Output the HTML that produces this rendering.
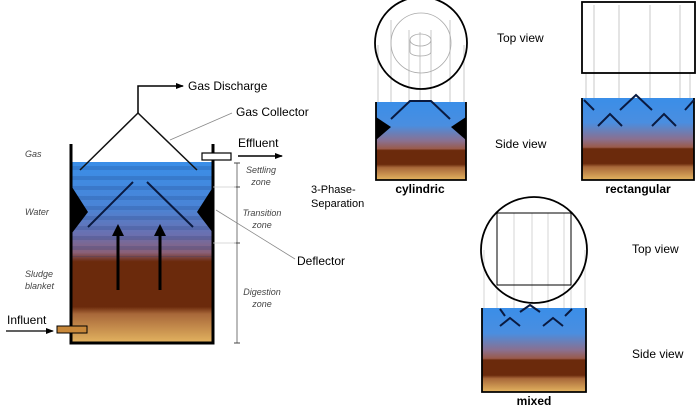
<!DOCTYPE html>
<html><head><meta charset="utf-8"><style>
html,body{margin:0;padding:0;background:#fff;}
svg{display:block;font-family:"Liberation Sans",Arial,sans-serif;}
</style></head><body>
<svg width="700" height="411" viewBox="0 0 700 411" xmlns="http://www.w3.org/2000/svg">
<defs>
<linearGradient id="g1" x1="0" y1="0" x2="0" y2="1">
<stop offset="0" stop-color="#3a8ee8"/>
<stop offset="0.25" stop-color="#4a84d6"/>
<stop offset="0.4" stop-color="#6a70b0"/>
<stop offset="0.5" stop-color="#8a6078"/>
<stop offset="0.55" stop-color="#6b2a0c"/>
<stop offset="0.8" stop-color="#6b2a0c"/>
<stop offset="0.84" stop-color="#a8683a"/>
<stop offset="1" stop-color="#e4b460"/>
</linearGradient>
<linearGradient id="g2" x1="0" y1="0" x2="0" y2="1">
<stop offset="0" stop-color="#3a8ee8"/>
<stop offset="0.3" stop-color="#4a8ee0"/>
<stop offset="0.5" stop-color="#8a7090"/>
<stop offset="0.6" stop-color="#9a5a4a"/>
<stop offset="0.62" stop-color="#6b2a0c"/>
<stop offset="0.8" stop-color="#6b2a0c"/>
<stop offset="0.84" stop-color="#a8683a"/>
<stop offset="1" stop-color="#e4b460"/>
</linearGradient>
<pattern id="stripes" width="10" height="10" patternUnits="userSpaceOnUse">
<rect width="10" height="4" y="6" fill="#103070" opacity="0.18"/>
</pattern>
<marker id="ar" markerWidth="8" markerHeight="8" refX="7" refY="4" orient="auto" markerUnits="userSpaceOnUse"><path d="M0,1 L8,4 L0,7z" fill="#000"/></marker>
</defs>

<rect x="71" y="162" width="142" height="181" fill="url(#g1)"/>
<rect x="71" y="162" width="142" height="95" fill="url(#stripes)"/>
<path d="M71,144 V343 H213 V144" fill="none" stroke="#000" stroke-width="3"/>
<path d="M80,170 L138,113 L197,170" fill="none" stroke="#111" stroke-width="1.5"/>
<path d="M138,113 V86 H183" fill="none" stroke="#000" stroke-width="1.5" marker-end="url(#ar)"/>
<path d="M88,227 L133,182 M147,182 L193,227" stroke="#0a1a40" stroke-width="2"/>
<path d="M72,187 L88,212 L72,233z M213,187 L197,212 L213,233z" fill="#000"/>
<path d="M118,290 V234 M160,290 V234" stroke="#000" stroke-width="3"/>
<path d="M112,236 L118,224 L124,236z M154,236 L160,224 L166,236z" fill="#000"/>
<rect x="202" y="153" width="29" height="7" fill="#fff" stroke="#000" stroke-width="1.2"/>
<path d="M238,156 H282" stroke="#000" stroke-width="1.5" marker-end="url(#ar)"/>
<text x="238" y="147" font-size="12">Effluent</text>
<rect x="57" y="326" width="30" height="7" fill="#c8883a" stroke="#000" stroke-width="1"/>
<path d="M6,331 H53" stroke="#000" stroke-width="1.3" marker-end="url(#ar)"/>
<text x="7" y="324" font-size="12">Influent</text>
<path d="M237,163 V343" stroke="#555" stroke-width="0.8"/>
<path d="M234,187 H240 M234,243 H240 M234,163 H240 M234,343 H240" stroke="#444" stroke-width="1"/>
<path d="M213,187 H236 M213,243 H236" stroke="#ccc" stroke-width="0.7"/>
<g font-size="9" font-style="italic" fill="#444" text-anchor="middle">
<text x="261" y="173">Settling</text><text x="261" y="185">zone</text>
<text x="262" y="216">Transition</text><text x="262" y="228">zone</text>
<text x="262" y="295">Digestion</text><text x="262" y="307">zone</text>
</g>
<g font-size="9" font-style="italic" fill="#444">
<text x="25" y="157">Gas</text>
<text x="25" y="215">Water</text>
<text x="25" y="277">Sludge</text><text x="25" y="289">blanket</text>
</g>
<path d="M170,140 L232,113" stroke="#888" stroke-width="0.8"/>
<text x="236" y="116" font-size="12">Gas Collector</text>
<text x="188" y="90" font-size="12">Gas Discharge</text>
<path d="M216,210 L295,259" stroke="#888" stroke-width="0.8"/>
<text x="297" y="265" font-size="12">Deflector</text>
<text x="311" y="193" font-size="11">3-Phase-</text>
<text x="311" y="207" font-size="11">Separation</text>

<g stroke="#bbb" stroke-width="0.8">
<path d="M391,20 V120 M409,30 V103 M420,32 V102 M431,30 V103 M450,20 V120 M378,45 V102 M464,45 V102"/>
</g>
<circle cx="421" cy="43" r="46" fill="none" stroke="#000" stroke-width="1.8"/>
<circle cx="421" cy="43" r="30" fill="none" stroke="#aaa" stroke-width="0.8"/>
<path d="M410,40 V52 A10.5,4 0 0 0 431,52 V40" fill="none" stroke="#aaa" stroke-width="0.8"/>
<ellipse cx="420.5" cy="40" rx="10.5" ry="6" fill="none" stroke="#aaa" stroke-width="0.8"/>
<rect x="376" y="102" width="90" height="78" fill="url(#g2)"/>
<path d="M376,102 V180 H466 V102" fill="none" stroke="#000" stroke-width="1.8"/>
<path d="M391,119 L410,101 H431 L450,119" fill="none" stroke="#0a1a40" stroke-width="2"/>
<path d="M376,117 L391,127 L376,140z M466,117 L451,127 L466,140z" fill="#000"/>
<text x="420" y="193" font-size="12" font-weight="bold" text-anchor="middle">cylindric</text>
<text x="497" y="42" font-size="12">Top view</text>
<text x="495" y="148" font-size="12">Side view</text>

<g stroke="#bbb" stroke-width="0.8">
<path d="M594,5 V126 M619,5 V126 M650,5 V126 M680,5 V126 M586,73 V98 M690,73 V98"/>
</g>
<rect x="582" y="2" width="113" height="71" fill="none" stroke="#000" stroke-width="1.8"/>
<rect x="582" y="98" width="112" height="82" fill="url(#g2)"/>
<path d="M582,98 V180 H694 V98" fill="none" stroke="#000" stroke-width="1.8"/>
<path d="M584,100 L594,110 M620,110 L636,95 L652,110 M685,110 L694,100 M598,126 L610,114 L622,126 M652,126 L664,114 L676,126" fill="none" stroke="#0a1a40" stroke-width="2"/>
<text x="638" y="193" font-size="12" font-weight="bold" text-anchor="middle">rectangular</text>

<g stroke="#ccc" stroke-width="0.8">
<path d="M497,213 V320 M514,213 V320 M532,213 V320 M548,213 V320 M564,213 V320 M571,213 V320 M484,250 V308 M585,250 V308"/>
</g>
<circle cx="534" cy="250" r="53" fill="none" stroke="#000" stroke-width="1.8"/>
<rect x="497" y="213" width="74" height="72" fill="none" stroke="#000" stroke-width="1"/>
<rect x="482" y="308" width="104" height="84" fill="url(#g2)"/>
<path d="M482,308 V392 H586 V308" fill="none" stroke="#000" stroke-width="1.8"/>
<path d="M500,309 L505,316 M520,312 L530,305 L540,312 M565,316 L572,309 M500,326 L510,318 L520,326 M543,326 L553,318 L563,326" fill="none" stroke="#0a1a40" stroke-width="2"/>
<text x="534" y="405" font-size="12" font-weight="bold" text-anchor="middle">mixed</text>
<text x="632" y="253" font-size="12">Top view</text>
<text x="632" y="358" font-size="12">Side view</text>
</svg>
</body></html>
